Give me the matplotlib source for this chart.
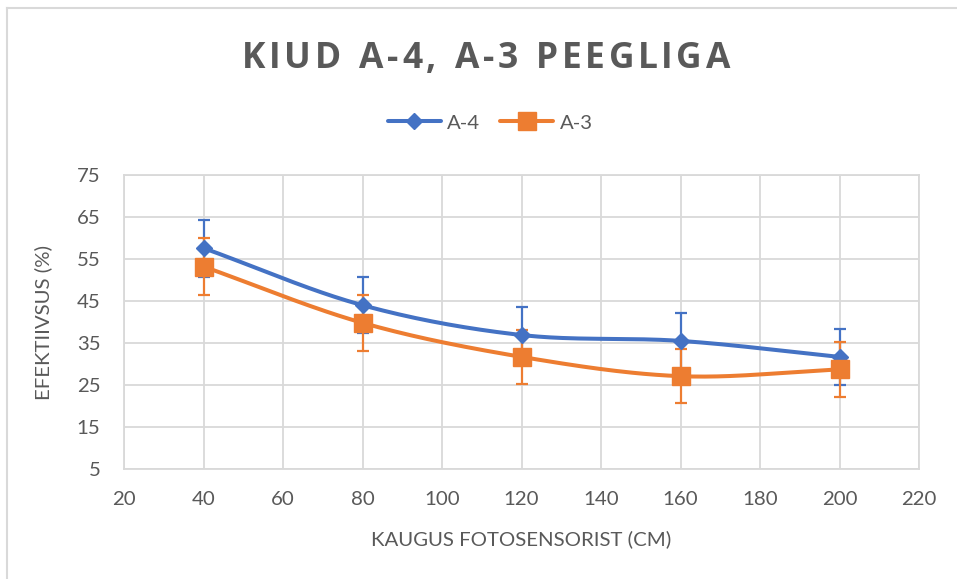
import numpy as np
import matplotlib
matplotlib.use("Agg")
import matplotlib.pyplot as plt
from matplotlib.lines import Line2D

# ---- data ----
distance = [40, 80, 120, 160, 200]
a4_values = [57.6, 44.0, 36.9, 35.5, 31.7]
a4_errors = [6.8, 6.7, 6.7, 6.7, 6.6]
a3_values = [53.2, 39.8, 31.7, 27.1, 28.7]
a3_errors = [6.7, 6.7, 6.5, 6.5, 6.6]
series_names = ["A-4", "A-3"]
x_ticks = [20, 40, 60, 80, 100, 120, 140, 160, 180, 200, 220]
y_ticks = [5, 15, 25, 35, 45, 55, 65, 75]
title_text = "KIUD A-4, A-3 PEEGLIGA"
xlabel_text = "KAUGUS FOTOSENSORIST (CM)"
ylabel_text = "EFEKTIIVSUS (%)"

BLUE = "#4472C4"
ORANGE = "#ED7D31"
GREY = "#595959"
GRID = "#D9D9D9"

plt.rcParams['font.family'] = ['Lato', 'DejaVu Sans']


def smooth(xs, ys, n=40):
    """Catmull-Rom style smoothing for drawing (like Excel smoothed lines)."""
    xs = np.asarray(xs, float)
    ys = np.asarray(ys, float)
    px = np.concatenate([[2 * xs[0] - xs[1]], xs, [2 * xs[-1] - xs[-2]]])
    py = np.concatenate([[2 * ys[0] - ys[1]], ys, [2 * ys[-1] - ys[-2]]])
    outx, outy = [], []
    for i in range(1, len(px) - 2):
        t = np.linspace(0, 1, n)
        p0, p1, p2, p3 = [np.array([px[j], py[j]]) for j in (i - 1, i, i + 1, i + 2)]
        tau = 1 / 6
        c1 = p1 + (p2 - p0) * tau
        c2 = p2 - (p3 - p1) * tau
        pts = ((1 - t) ** 3)[:, None] * p1 + (3 * (1 - t) ** 2 * t)[:, None] * c1 \
            + (3 * (1 - t) * t ** 2)[:, None] * c2 + (t ** 3)[:, None] * p2
        outx.extend(pts[:, 0])
        outy.extend(pts[:, 1])
    return np.array(outx), np.array(outy)


W, H = 957, 579
fig = plt.figure(figsize=(W / 100, H / 100), dpi=100)
fig.patch.set_facecolor("white")

# outer chart border (left and top visible)
fig.add_artist(Line2D([7 / W, 7 / W], [0, 1 - 8 / H], transform=fig.transFigure,
                      color=GRID, lw=1.5))
fig.add_artist(Line2D([7 / W, 1], [1 - 8 / H, 1 - 8 / H], transform=fig.transFigure,
                      color=GRID, lw=1.5))

ax = fig.add_axes([124 / W, 1 - 469 / H, (919 - 124) / W, (469 - 175) / H])
ax.set_xlim(20, 220)
ax.set_ylim(5, 75)
ax.set_xticks(x_ticks)
ax.set_yticks(y_ticks)
ax.grid(True, color=GRID, lw=1.3)
ax.set_axisbelow(True)
for s in ax.spines.values():
    s.set_color(GRID)
    s.set_linewidth(1.3)
ax.tick_params(length=0, labelsize=14.7, labelcolor=GREY)
ax.tick_params(axis='x', pad=16)
ax.tick_params(axis='y', pad=17)

# error bars
ax.errorbar(distance, a4_values, yerr=a4_errors, fmt='none', ecolor=BLUE,
            elinewidth=1.6, capsize=4.5, capthick=1.6, zorder=2)
ax.errorbar(distance, a3_values, yerr=a3_errors, fmt='none', ecolor=ORANGE,
            elinewidth=1.6, capsize=4.5, capthick=1.6, zorder=2)

# smoothed lines
sx, sy = smooth(distance, a4_values)
ax.plot(sx, sy, color=BLUE, lw=2.9, zorder=3, solid_capstyle='round')
ax.plot(distance, a4_values, ls='none', marker='D', ms=8, color=BLUE, zorder=3)
sx, sy = smooth(distance, a3_values)
ax.plot(sx, sy, color=ORANGE, lw=2.9, zorder=4, solid_capstyle='round')
ax.plot(distance, a3_values, ls='none', marker='s', ms=12.5, color=ORANGE, zorder=4)

# axis titles at fixed positions
fig.text(521 / W, 1 - 539 / H, xlabel_text, fontsize=14.7, color=GREY,
         ha='center', va='center')
fig.text(43.5 / W, 1 - 322 / H, ylabel_text, fontsize=14.7, color=GREY,
         ha='center', va='center', rotation=90)

# legend
h1 = Line2D([], [], color=BLUE, lw=2.9, marker='D', ms=8, solid_capstyle='round')
h2 = Line2D([], [], color=ORANGE, lw=2.9, marker='s', ms=12.5, solid_capstyle='round')
fig.legend([h1, h2], series_names, loc='center', bbox_to_anchor=(490 / W, 1 - 123 / H),
           ncol=2, frameon=False, fontsize=14.7, labelcolor=GREY, handlelength=2.6,
           handletextpad=0.3, columnspacing=1.0)

# title with letter spacing
renderer = fig.canvas.get_renderer()
tfont = ['Open Sans', 'DejaVu Sans']
tsize = 25.5
target_w = 488
widths = []
for ch in title_text:
    t = fig.text(0, 0, ch if ch != " " else "I", fontsize=tsize, fontweight='bold',
                 family=tfont)
    bb = t.get_window_extent(renderer)
    widths.append(bb.width)
    t.remove()
spacing = (target_w - sum(widths)) / (len(title_text) - 1)
xpos = 242
for ch, w in zip(title_text, widths):
    if ch != " ":
        fig.text(xpos / W, 1 - 68 / H, ch, fontsize=tsize, fontweight='bold',
                 family=tfont, color=GREY, ha='left', va='baseline')
    xpos += w + spacing

fig.savefig("out.png", dpi=100, facecolor="white")
